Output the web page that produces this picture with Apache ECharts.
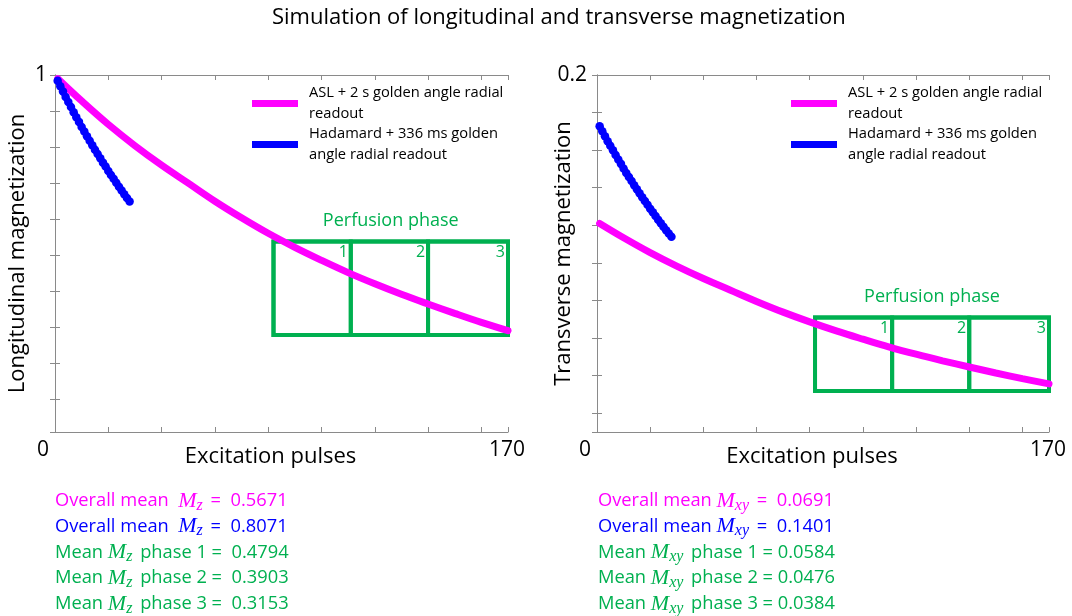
<!DOCTYPE html>
<html>
<head>
<meta charset="utf-8">
<script src="https://cdn.jsdelivr.net/npm/echarts@6/dist/echarts.min.js"></script>
<style>
html,body{margin:0;padding:0;background:#fff;}
#chart{width:1072px;height:616px;}
</style>
</head>
<body>
<div id="chart"></div>
<script>
// ---------------- data ----------------
const titleText = 'Simulation of longitudinal and transverse magnetization';
const seriesNames = ['ASL + 2 s golden angle radial\nreadout', 'Hadamard + 336 ms golden\nangle radial readout'];

// ASL + 2 s readout (magenta)
const pulsesASL = [1, 10, 20, 30, 40, 50, 60, 70, 80, 90, 100, 110, 120, 130, 140, 150, 160, 170];
const mzASL  = [0.990, 0.928, 0.863, 0.804, 0.750, 0.700, 0.650, 0.604, 0.561, 0.522, 0.486, 0.452, 0.421, 0.392, 0.365, 0.339, 0.314, 0.291];
const mxyASL = [0.1210, 0.1134, 0.1055, 0.0983, 0.0917, 0.0856, 0.0795, 0.0738, 0.0686, 0.0638, 0.0594, 0.0552, 0.0514, 0.0479, 0.0446, 0.0414, 0.0384, 0.0356];

// Hadamard + 336 ms readout (blue)
const pulsesHad = [1, 2, 3, 4, 5, 6, 7, 8, 9, 10, 11, 12, 13, 14, 15, 16, 17, 18, 19, 20, 21, 22, 23, 24, 25, 26, 27, 28];
const mzHad  = [0.984, 0.969, 0.954, 0.939, 0.925, 0.911, 0.897, 0.883, 0.870, 0.856, 0.843, 0.830, 0.818, 0.805, 0.793, 0.781, 0.769, 0.757, 0.746, 0.734, 0.723, 0.712, 0.701, 0.690, 0.680, 0.669, 0.659, 0.649];
const mxyHad = [0.1727, 0.1700, 0.1674, 0.1648, 0.1623, 0.1599, 0.1574, 0.1550, 0.1527, 0.1502, 0.1479, 0.1457, 0.1436, 0.1413, 0.1392, 0.1371, 0.1350, 0.1329, 0.1309, 0.1288, 0.1269, 0.1250, 0.1230, 0.1211, 0.1193, 0.1174, 0.1157, 0.1139];

// perfusion phase boxes
const phaseEdges = [82, 111, 140, 170];
const phaseNames = ['1', '2', '3'];
const boxMz  = [0.279, 0.538];
const boxMxy = [0.0318, 0.071];

// axes
const xMin = 0, xMax = 170, xStep = 20;
const mzRange = [0.01, 1], mzStep = 0.1;
const mxyRange = [0.01, 0.2], mxyStep = 0.02;

// statistics text
const statsMz  = ['0.5671', '0.8071', '0.4794', '0.3903', '0.3153'];
const statsMxy = ['0.0691', '0.1401', '0.0584', '0.0476', '0.0384'];

// ---------------- style ----------------
const FONT = 'Open Sans';
const MAG = '#ff00ff', BLU = '#0000ff', GRN = '#00b050', AX = '#8a8a8a';
const statColors = [MAG, BLU, GRN, GRN, GRN];

const toPairs = (xs, ys) => xs.map((x, i) => [x, ys[i]]);

function xAx(gi, top) {
  return {
    type: 'value', gridIndex: gi, position: top ? 'top' : 'bottom',
    min: xMin, max: xMax, interval: xStep,
    axisLine: {show: true, lineStyle: {color: AX, width: 1}},
    axisTick: {show: true, inside: true, length: 5, lineStyle: {color: AX}},
    splitLine: {show: false},
    axisLabel: top ? {show: false} : {
      show: true, showMinLabel: true, showMaxLabel: true, margin: 8,
      fontFamily: FONT, fontSize: 21, color: '#000',
      formatter: v => v === xMin ? '{z|' + xMin + '}' : (v === xMax ? '{e|' + xMax + '}' : ''),
      rich: {
        z: {fontFamily: FONT, fontSize: 21, color: '#000', padding: [0, 24, 0, 0]},
        e: {fontFamily: FONT, fontSize: 21, color: '#000', padding: [0, 2, 0, 0]}
      }
    },
    name: top ? '' : 'Excitation pulses', nameLocation: 'middle', nameGap: 14, nameMoveOverlap: false,
    nameTextStyle: {fontFamily: FONT, fontSize: 22, color: '#000', verticalAlign: 'top', padding: [0, 22, 0, 0]}
  };
}
function yAx(gi, right, range, step, name, gap, margin) {
  return {
    type: 'value', gridIndex: gi, position: right ? 'right' : 'left',
    min: range[0], max: range[1], splitNumber: 10, minInterval: step, maxInterval: step,
    axisLine: {show: true, lineStyle: {color: AX, width: 1}},
    axisTick: {show: true, inside: true, length: 5, lineStyle: {color: AX}},
    splitLine: {show: false},
    axisLabel: right ? {show: false} : {
      show: true, showMaxLabel: true, margin: margin,
      fontFamily: FONT, fontSize: 21, color: '#000',
      formatter: v => Math.abs(v - range[1]) < 1e-9 ? String(range[1]) : ''
    },
    name: right ? '' : name, nameLocation: 'middle', nameGap: gap, nameRotate: 90, nameMoveOverlap: false,
    nameTextStyle: {fontFamily: FONT, fontSize: 22, color: '#000'}
  };
}

function boxAreas(lohi) {
  const areas = [];
  for (let i = 0; i < phaseNames.length; i++) {
    areas.push([
      {xAxis: phaseEdges[i], yAxis: lohi[0], label: {formatter: phaseNames[i]}},
      {xAxis: phaseEdges[i + 1], yAxis: lohi[1]}
    ]);
  }
  areas.push([
    {xAxis: phaseEdges[0], yAxis: lohi[0], label: {formatter: 'Perfusion phase', position: 'top', distance: 10, fontSize: 18}},
    {xAxis: phaseEdges[phaseEdges.length - 1], yAxis: lohi[1]}
  ]);
  return {
    silent: true,
    itemStyle: {color: 'rgba(0,0,0,0)', borderColor: GRN, borderWidth: 4},
    label: {show: true, position: 'insideTopRight', distance: 5, color: GRN, fontFamily: FONT, fontSize: 16},
    data: areas
  };
}

function magSeries(gi, ys, lohi) {
  return {
    name: seriesNames[0], type: 'line', xAxisIndex: gi * 2, yAxisIndex: gi * 2,
    data: toPairs(pulsesASL, ys), smooth: 0.4, showSymbol: false, symbol: 'none',
    lineStyle: {color: MAG, width: 7, cap: 'round'}, itemStyle: {color: MAG},
    markArea: boxAreas(lohi), z: 3
  };
}
function bluSeries(gi, ys) {
  return {
    name: seriesNames[1], type: 'line', xAxisIndex: gi * 2, yAxisIndex: gi * 2,
    data: toPairs(pulsesHad, ys), showSymbol: true, symbol: 'circle', symbolSize: 8.5,
    lineStyle: {color: BLU, width: 6, cap: 'round'}, itemStyle: {color: BLU, borderWidth: 0}, z: 4
  };
}

function statLines(left, sub, vals, spaced) {
  const out = [];
  for (let i = 0; i < vals.length; i++) {
    let txt;
    if (i === 0 || i === 1) {
      txt = 'Overall mean ' + (spaced ? ' ' : '') + '{m|M}{s|' + sub + '} =  ' + vals[i];
    } else {
      txt = 'Mean {m|M}{s|' + sub + '} phase ' + (i - 1) + ' =' + (spaced ? '  ' : ' ') + vals[i];
    }
    out.push({
      type: 'text', left: left, top: 490 + i * 25.7, silent: true,
      style: {
        text: txt, fill: statColors[i], font: '18.3px ' + FONT,
        rich: {
          m: {fontFamily: 'Liberation Serif', fontStyle: 'italic', fontSize: 22, fill: statColors[i]},
          s: {fontFamily: 'Liberation Serif', fontStyle: 'italic', fontSize: 16, fill: statColors[i], padding: [9, 3, 0, 0]}
        }
      }
    });
  }
  return out;
}

const legendBase = {
  orient: 'vertical', itemWidth: 46, itemHeight: 7, icon: 'rect', itemGap: 0, padding: 0,
  data: seriesNames, selectedMode: false,
  textStyle: {fontFamily: FONT, fontSize: 14.7, color: '#000', lineHeight: 20.5, padding: [0, 0, 0, 6]}
};

const option = {
  animation: false,
  backgroundColor: '#fff',
  title: {text: titleText, left: 272, top: 7, padding: 0, textStyle: {fontFamily: FONT, fontSize: 22, fontWeight: 'normal', color: '#000'}},
  legend: [
    Object.assign({}, legendBase, {left: 252, top: 83}),
    Object.assign({}, legendBase, {left: 791, top: 83})
  ],
  grid: [
    {left: 55, top: 75, width: 453, height: 357},
    {left: 597, top: 75, width: 452, height: 357}
  ],
  xAxis: [xAx(0, false), xAx(0, true), xAx(1, false), xAx(1, true)],
  yAxis: [
    yAx(0, false, mzRange, mzStep, 'Longitudinal magnetization', 26, 8),
    yAx(0, true, mzRange, mzStep, '', 0, 0),
    yAx(1, false, mxyRange, mxyStep, 'Transverse magnetization', 22, 10),
    yAx(1, true, mxyRange, mxyStep, '', 0, 0)
  ],
  series: [
    magSeries(0, mzASL, boxMz),
    bluSeries(0, mzHad),
    magSeries(1, mxyASL, boxMxy),
    bluSeries(1, mxyHad)
  ],
  graphic: [].concat(statLines(55, 'z', statsMz, true), statLines(598, 'xy', statsMxy, false))
};

const chart = echarts.init(document.getElementById('chart'), null, {renderer: 'canvas'});
chart.setOption(option);
</script>
</body>
</html>
